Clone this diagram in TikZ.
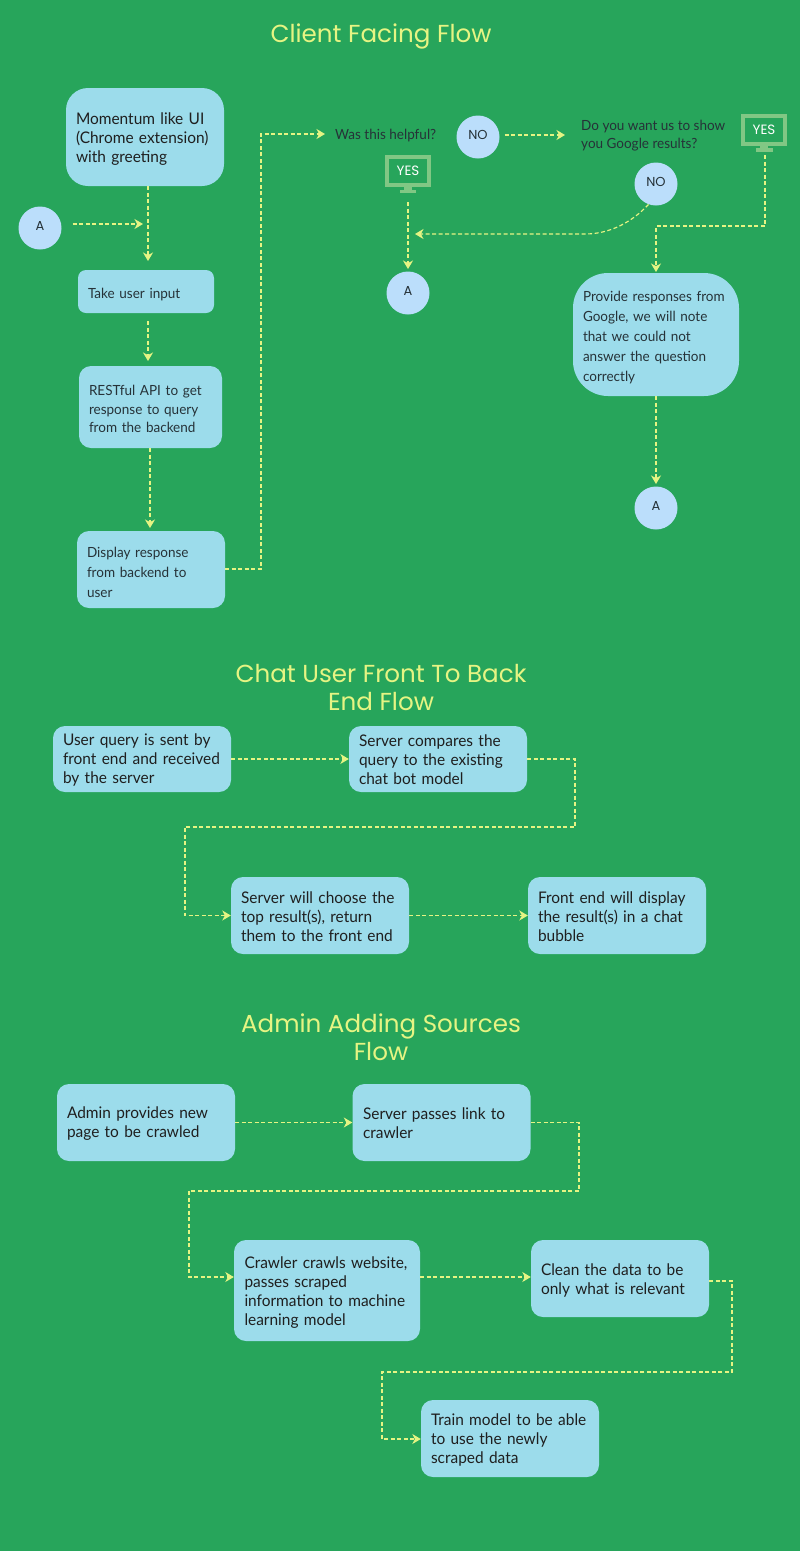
\documentclass[tikz,border=0pt]{standalone}
\usepackage{fontspec}
\setmainfont[FakeStretch=0.965]{Lato}
\newfontfamily\titlefont{Poppins}
\usetikzlibrary{arrows.meta}
\definecolor{bgc}{HTML}{27A55B}
\definecolor{boxc}{HTML}{9CDCEB}
\definecolor{circc}{HTML}{BBDEFB}
\definecolor{dark}{HTML}{263238}
\definecolor{yel}{HTML}{E6F483}
\definecolor{mon}{HTML}{81C784}
\newcommand{\tup}[1]{\rule{0pt}{#1pt}}
\tikzset{
 x=1pt,y=-1pt,
 flowbox/.style={fill=boxc,align=left,inner sep=0pt,anchor=center,execute at begin node={\hyphenpenalty=10000 \exhyphenpenalty=10000 }},
 small/.style={flowbox,font=\fontsize{14}{20}\selectfont,text=dark},
 big/.style={flowbox,font=\fontsize{16}{19}\selectfont,text=black!88},
 circ/.style={circle,fill=circc,minimum size=43pt,inner sep=0pt,text=dark,font=\titlefont\fontsize{13}{14}\selectfont},
 monitor/.style={draw=mon,line width=4pt,minimum width=42pt,minimum height=28pt,inner sep=0pt,text=white,font=\titlefont\fontsize{13.5}{14}\selectfont},
 stand/.style={fill=mon,draw=none},
 title/.style={text=yel,align=center,font=\titlefont\fontsize{24.6}{28}\selectfont},
 plain/.style={text=dark,align=left,inner sep=0pt,font=\fontsize{14}{18}\selectfont},
 conn/.style={draw=yel,line width=1.15pt,dash pattern=on 4pt off 2.5pt,-{Stealth[inset=2.6pt,length=8.5pt,width=10pt,fill=yel]}},
}
\begin{document}
\begin{tikzpicture}
\fill[bgc] (0,0) rectangle (800,1551);
\useasboundingbox (0,0) rectangle (800,1551);

% titles
\node[title] (t1) at (381,36) {Client Facing Flow};
\node[title] (t2) at (381,687.5) {Chat User Front To Back\\End Flow};
\node[title] (t3) at (381,1037.5) {Admin Adding Sources\\Flow};

% client flow
\node[big,rounded corners=22pt,minimum width=158pt,minimum height=98pt,text width=138pt] (momentum) at (145,137) {\tup{15}Momentum like UI\\(Chrome extension)\\with greeting};
\node[small,rounded corners=8pt,minimum width=136pt,minimum height=43pt,text width=116pt] (take) at (146,291.5) {\tup{17}Take user input};
\node[small,rounded corners=12pt,minimum width=143pt,minimum height=82pt,text width=123pt,font=\fontsize{14}{18.5}\selectfont] (rest) at (150.5,407) {\tup{15}RESTful API to get\\response to query\\from the backend};
\node[small,rounded corners=12pt,minimum width=148pt,minimum height=77pt,text width=128pt] (display) at (151,569.5) {\tup{16}Display response\\from backend to\\user};
\node[small,rounded corners=35pt,minimum width=166pt,minimum height=123pt,text width=146pt] (google) at (656,334.5) {\tup{17}Provide responses from\\Google, we will note\\that we could not\\answer the question\\correctly};

\node[circ] (a1) at (40,228) {\raisebox{4pt}{A}};
\node[circ] (a2) at (408,293) {\raisebox{4pt}{A}};
\node[circ] (a3) at (656,508) {\raisebox{4pt}{A}};
\node[circ] (no1) at (478,137) {\raisebox{4pt}{NO}};
\node[circ] (no2) at (656,184) {\raisebox{4pt}{NO}};

\node[plain,anchor=west] (helpful) at (335,136) {Was this helpful?};
\node[plain,anchor=west] (showq) at (581,136) {Do you want us to show\\you Google results?};

\node[monitor] (yes1) at (408,171) {YES};
\fill[stand] (404,187) rectangle (412,190);
\fill[stand] (400,189.5) rectangle (416,193);
\node[monitor] (yes2) at (764,130) {YES};
\fill[stand] (760,146) rectangle (768,148);
\fill[stand] (756,148) rectangle (773,152);

% free ends
\coordinate (c1) at (148,261);
\coordinate (c2) at (143,224);
\coordinate (c3) at (148,361);
\coordinate (c4) at (150,528);
\coordinate (c5) at (325,134);
\coordinate (c6) at (408,269);
\coordinate (c7) at (565,135);
\coordinate (c8) at (415,234);
\coordinate (c9) at (656,272);
\coordinate (c10) at (656,484);

\draw[conn] (c1 |- momentum.south) -- (c1);
\draw[conn,shorten <=11pt] (a1.east |- c2) -- (c2);
\draw[conn,shorten <=8pt] (c3 |- take.south) -- (c3);
\draw[conn] (c4 |- rest.south) -- (c4);
\draw[conn] (display.east |- 0,569) -- (261,569) -- (261,134) -- (c5);
\draw[conn,shorten <=15pt] (yes1.south) -- (c6);
\draw[conn,shorten <=5pt] (no1.east |- c7) -- (c7);
\draw[conn] (no2.250) .. controls (632,222) and (610,234) .. (585,234) -- (c8);
\draw[conn,shorten <=8pt] (765,147) -- (765,226) -- (656,226) -- (c9);
\draw[conn] (c10 |- google.south) -- (c10);

% chat flow
\node[big,rounded corners=12pt,minimum width=178pt,minimum height=66pt,text width=158pt] (query) at (142,759) {\tup{14}User query is sent by\\front end and received\\by the server};
\node[big,rounded corners=12pt,minimum width=178pt,minimum height=66pt,text width=158pt] (compare) at (438,759) {\tup{14}Server compares the\\query to the existing\\chat bot model};
\node[big,rounded corners=12pt,minimum width=178pt,minimum height=77pt,text width=158pt] (choose) at (320,915.5) {\tup{14}Server will choose the\\top result(s), return\\them to the front end};
\node[big,rounded corners=12pt,minimum width=178pt,minimum height=77pt,text width=158pt] (front) at (617,915.5) {\tup{14}Front end will display\\the result(s) in a chat\\bubble};

\draw[conn] (query) -- (compare);
\draw[conn] (compare.east) -- (575,759) -- (575,827) -- (185,827) -- (185,915.5) -- (choose.west);
\draw[conn] (choose) -- (front);

% admin flow
\node[big,rounded corners=12pt,minimum width=178pt,minimum height=77pt,text width=158pt] (admin) at (146,1122.5) {\tup{14}Admin provides new\\page to be crawled};
\node[big,rounded corners=12pt,minimum width=178pt,minimum height=77pt,text width=157pt] (passes) at (441.5,1122.5) {\tup{14}Server passes link to\\crawler};
\node[big,rounded corners=12pt,minimum width=186pt,minimum height=101pt,text width=165pt] (crawl) at (327,1290.5) {\tup{16}Crawler crawls website,\\passes scraped\\information to machine\\learning model};
\node[big,rounded corners=12pt,minimum width=178pt,minimum height=77pt,text width=158pt] (clean) at (620,1278.5) {\tup{16}Clean the data to be\\only what is relevant};
\node[big,rounded corners=12pt,minimum width=178pt,minimum height=77pt,text width=158pt] (train) at (510,1438.5) {\tup{14}Train model to be able\\to use the newly\\scraped data};

\draw[conn] (admin) -- (passes);
\draw[conn] (passes.east) -- (579,1122.5) -- (579,1191) -- (189,1191) -- (189,1277) -- (crawl.west |- 0,1277);
\draw[conn] (crawl.east |- 0,1277) -- (clean.west |- 0,1277);
\draw[conn] (clean.east |- 0,1281) -- (732,1281) -- (732,1372) -- (382,1372) -- (382,1439) -- (train.west |- 0,1439);
\end{tikzpicture}
\end{document}
